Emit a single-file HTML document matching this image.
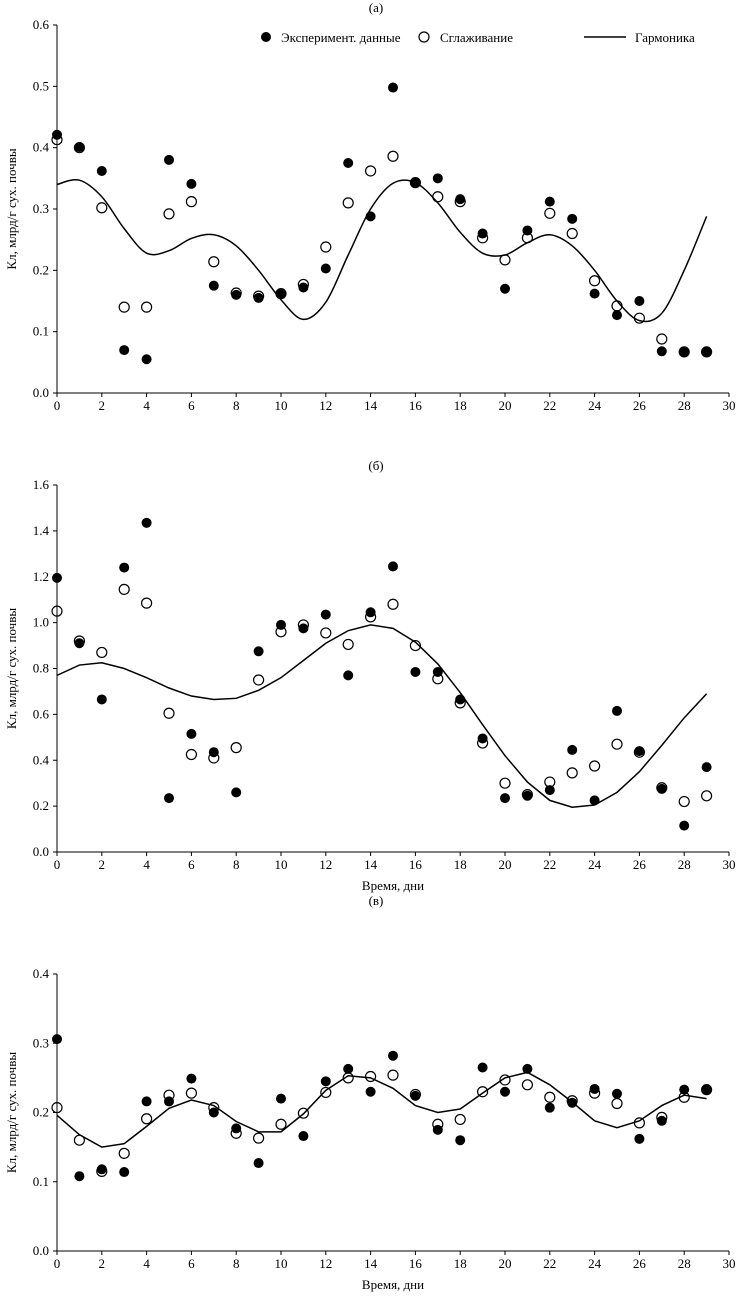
<!DOCTYPE html>
<html><head><meta charset="utf-8"><style>
body{margin:0;background:#fff}
svg text{font-family:"Liberation Serif",serif;font-size:13px;fill:#000}
</style></head><body>
<svg id="c" width="752" height="1300" xmlns="http://www.w3.org/2000/svg"></svg>
<script>
const days=[0,1,2,3,4,5,6,7,8,9,10,11,12,13,14,15,16,17,18,19,20,21,22,23,24,25,26,27,28,29];
const aExp=[0.421,0.401,0.362,0.070,0.055,0.380,0.341,0.175,0.160,0.155,0.161,0.172,0.203,0.375,0.288,0.498,0.343,0.350,0.316,0.260,0.170,0.265,0.312,0.284,0.162,0.127,0.150,0.068,0.067,0.067];
const aSm=[0.413,0.400,0.302,0.140,0.140,0.292,0.312,0.214,0.163,0.158,0.162,0.177,0.238,0.310,0.362,0.386,0.343,0.320,0.312,0.253,0.217,0.253,0.293,0.260,0.183,0.142,0.122,0.088,0.067,0.067];
const aHarm=[0.340,0.347,0.320,0.268,0.228,0.232,0.252,0.258,0.240,0.200,0.152,0.120,0.148,0.225,0.300,0.342,0.343,0.310,0.262,0.228,0.225,0.245,0.258,0.240,0.200,0.150,0.118,0.130,0.200,0.288];
const bExp=[1.195,0.91,0.665,1.24,1.435,0.235,0.515,0.435,0.26,0.875,0.99,0.975,1.035,0.77,1.045,1.245,0.785,0.785,0.665,0.495,0.235,0.245,0.27,0.445,0.225,0.615,0.44,0.275,0.115,0.37];
const bSm=[1.05,0.92,0.87,1.145,1.085,0.605,0.425,0.41,0.455,0.75,0.96,0.99,0.955,0.905,1.025,1.08,0.9,0.755,0.65,0.475,0.30,0.25,0.305,0.345,0.375,0.47,0.435,0.28,0.22,0.245];
const bHarm=[0.77,0.815,0.825,0.8,0.76,0.715,0.68,0.665,0.67,0.705,0.76,0.835,0.91,0.965,0.99,0.975,0.915,0.82,0.695,0.555,0.42,0.305,0.225,0.195,0.205,0.26,0.35,0.465,0.585,0.69];
const cExp=[0.306,0.108,0.118,0.114,0.216,0.216,0.249,0.20,0.177,0.127,0.22,0.166,0.245,0.263,0.23,0.282,0.224,0.175,0.16,0.265,0.23,0.263,0.207,0.214,0.234,0.227,0.162,0.188,0.233,0.233];
const cSm=[0.207,0.16,0.115,0.141,0.191,0.225,0.228,0.207,0.17,0.163,0.183,0.199,0.229,0.25,0.252,0.254,0.226,0.183,0.19,0.23,0.247,0.24,0.222,0.217,0.228,0.213,0.185,0.193,0.222,0.233];
const cHarm=[0.196,0.168,0.15,0.155,0.18,0.206,0.218,0.21,0.187,0.172,0.172,0.198,0.232,0.253,0.25,0.235,0.21,0.2,0.205,0.228,0.25,0.258,0.24,0.215,0.188,0.178,0.188,0.21,0.225,0.22];
const xTicks=[0,2,4,6,8,10,12,14,16,18,20,22,24,26,28,30];
const aTicks=["0.0","0.1","0.2","0.3","0.4","0.5","0.6"];
const bTicks=["0.0","0.2","0.4","0.6","0.8","1.0","1.2","1.4","1.6"];
const cTicks=["0.0","0.1","0.2","0.3","0.4"];
const svg=document.getElementById('c');
const NS="http://www.w3.org/2000/svg";
function mk(tag,at,parent){const e=document.createElementNS(NS,tag);for(const k in at)e.setAttribute(k,at[k]);(parent||svg).appendChild(e);return e;}
const X0=57,X1=729;
function sx(d){return X0+(X1-X0)*d/30;}
function panel(name,top,bot,ymax,ticks,exp,sm,harm,smooth,title,titleY,xlab){
  const g=mk('g',{});
  
  
  const sy=v=>bot-(bot-top)*v/ymax;
  const t=mk('text',{x:376,y:titleY,'text-anchor':'middle'},g);t.textContent=title;
  
  
  const ax=mk('path',{d:`M${X0},${top}V${bot}H${X1}`,stroke:'#000',fill:'none','stroke-width':1},g);
  
  
  ticks.forEach(l=>{const v=parseFloat(l);const y=sy(v);
    mk('line',{x1:X0-4,x2:X0,y1:y,y2:y,stroke:'#000'},g);
    const tx=mk('text',{x:X0-8,y:y+4,'text-anchor':'end'},g);tx.textContent=l;
    
    });
  xTicks.forEach(d=>{const x=sx(d);
    mk('line',{x1:x,x2:x,y1:bot,y2:bot+4,stroke:'#000'},g);
    const tx=mk('text',{x:x,y:bot+17,'text-anchor':'middle'},g);tx.textContent=d;
    
    });
  const yt=mk('text',{x:0,y:0,'text-anchor':'middle',transform:`translate(16,${(top+bot)/2}) rotate(-90)`},g);
  yt.textContent='Кл, млрд/г сух. почвы';
  
  
  if(xlab){const xt=mk('text',{x:393,y:bot+38,'text-anchor':'middle'},g);xt.textContent='Время, дни';
    
    }
  const pts=days.map((d,i)=>[sx(d),sy(harm[i])]);
  let dstr='M'+pts[0][0]+','+pts[0][1];
  if(smooth){for(let i=0;i<pts.length-1;i++){const p0=pts[Math.max(0,i-1)],p1=pts[i],p2=pts[i+1],p3=pts[Math.min(pts.length-1,i+2)];
    dstr+=`C${p1[0]+(p2[0]-p0[0])/6},${p1[1]+(p2[1]-p0[1])/6} ${p2[0]-(p3[0]-p1[0])/6},${p2[1]-(p3[1]-p1[1])/6} ${p2[0]},${p2[1]}`;}}
  else pts.slice(1).forEach(p=>dstr+='L'+p[0]+','+p[1]);
  const ln=mk('path',{d:dstr,stroke:'#000',fill:'none','stroke-width':1.5},g);
  
  
  days.forEach((d,i)=>{const c=mk('circle',{cx:sx(d),cy:sy(exp[i]),r:5,fill:'#000'},g);
    
    });
  days.forEach((d,i)=>{const c=mk('circle',{cx:sx(d),cy:sy(sm[i]),r:5,fill:'none',stroke:'#000','stroke-width':1.2},g);
    
    });
}
panel('panel-a',25,393,0.6,aTicks,aExp,aSm,aHarm,true,'(а)',12,false);
panel('panel-b',485,852,1.6,bTicks,bExp,bSm,bHarm,false,'(б)',470,true);
panel('panel-c',974,1251,0.4,cTicks,cExp,cSm,cHarm,false,'(в)',905,true);
const lg=mk('g',{});


mk('circle',{cx:266,cy:37,r:5,fill:'#000'},lg);
let t1=mk('text',{x:281,y:42},lg);t1.textContent='Эксперимент. данные';
mk('circle',{cx:424,cy:37,r:5,fill:'none',stroke:'#000','stroke-width':1.2},lg);
let t2=mk('text',{x:440,y:42},lg);t2.textContent='Сглаживание';
mk('line',{x1:584,x2:626,y1:37,y2:37,stroke:'#000','stroke-width':1.5},lg);
let t3=mk('text',{x:635,y:42},lg);t3.textContent='Гармоника';
</script>
</body></html>
